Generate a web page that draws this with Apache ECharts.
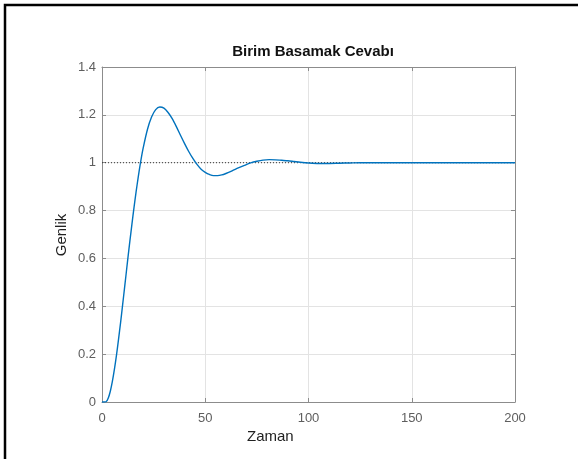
<!DOCTYPE html>
<html lang="tr">
<head>
    <meta charset="UTF-8">
    <title>Birim Basamak Cevabı</title>
    <script src="https://cdn.jsdelivr.net/npm/echarts@6/dist/echarts.min.js"></script>
    <style>
        html, body { margin: 0; padding: 0; background: #fff; }
    </style>
</head>
<body>
    <div id="main" style="width: 578px; height: 459px"></div>
    <script>
        var myEcharts = echarts.init(document.getElementById('main'))

        // zaman (s) ve genlik degerleri
        var zaman = [0, 1, 2, 3, 4, 5, 6, 7, 8, 9, 10, 11, 12, 13, 14, 15, 16, 17, 18, 19, 20,
            22, 24, 26, 28, 30, 32, 34, 36, 38, 40, 42, 44, 46, 48, 50, 52, 54, 56, 58, 60,
            63, 66, 69, 72, 75, 78, 81, 84, 87, 90, 93, 96, 100, 105, 110, 115, 120, 125, 130,
            140, 150, 160, 170, 180, 190, 200]
        var genlik = [0, 0, 0.001, 0.016, 0.044, 0.085, 0.136, 0.195, 0.262, 0.332, 0.407, 0.483, 0.56, 0.636, 0.708, 0.779, 0.846, 0.908, 0.966, 1.018, 1.064,
            1.139, 1.191, 1.222, 1.233, 1.228, 1.21, 1.184, 1.151, 1.115, 1.08, 1.047, 1.018, 0.993, 0.973, 0.96, 0.951, 0.946, 0.946, 0.949, 0.955,
            0.966, 0.978, 0.989, 0.999, 1.006, 1.011, 1.013, 1.012, 1.01, 1.008, 1.005, 1.002, 0.999, 0.997, 0.997, 0.998, 0.999, 1.0, 1.0,
            1.0, 1.0, 1.0, 1.0, 1.0, 1.0, 1.0]

        var xTicks = [0, 50, 100, 150, 200]
        var yTicks = [0, 0.2, 0.4, 0.6, 0.8, 1, 1.2, 1.4]
        var hedef = [[0, 1], [200, 1]] // son deger cizgisi (noktali)

        var cevap = zaman.map(function (t, i) { return [t, genlik[i]] })

        var eksenRenk = '#8c8c8c'
        var gridRenk = '#e3e3e3'
        var etiket = { color: '#5e5e5e', fontSize: 13, fontFamily: 'Liberation Sans, Arial, sans-serif' }

        function xEksen(pos, showLabel) {
            return {
                type: 'value', position: pos, min: xTicks[0], max: xTicks[xTicks.length - 1], interval: 50,
                axisLine: { show: true, onZero: false, lineStyle: { color: eksenRenk, width: 1 } },
                axisTick: { show: true, inside: true, length: 4, lineStyle: { color: eksenRenk } },
                axisLabel: Object.assign({ show: showLabel, margin: 10 }, etiket),
                splitLine: { show: showLabel, lineStyle: { color: gridRenk, width: 1 } }
            }
        }
        function yEksen(pos, showLabel) {
            return {
                type: 'value', position: pos, min: 0, max: 1.4, interval: 0.2,
                axisLine: { show: true, onZero: false, lineStyle: { color: eksenRenk, width: 1 } },
                axisTick: { show: true, inside: true, length: 4, lineStyle: { color: eksenRenk } },
                axisLabel: Object.assign({
                    show: showLabel, margin: 6,
                    formatter: function (v) { return yTicks.indexOf(+v.toFixed(1)) >= 0 ? String(+v.toFixed(1)) : '' }
                }, etiket),
                splitLine: { show: showLabel, lineStyle: { color: gridRenk, width: 1 } }
            }
        }

        var option = {
            backgroundColor: '#fff',
            animation: false,
            title: {
                text: 'Birim Basamak Cevabı',
                left: 308,
                textAlign: 'center',
                top: 39,
                textStyle: { color: '#111', fontSize: 15, fontWeight: 'bold', fontFamily: 'Liberation Sans, Arial, sans-serif' }
            },
            grid: { left: 102, top: 67, width: 413, height: 335, show: false },
            xAxis: [xEksen('bottom', true), xEksen('top', false)],
            yAxis: [yEksen('left', true), yEksen('right', false)],
            graphic: [
                {
                    type: 'polyline',
                    shape: { points: [[5, 459], [5, 5], [578, 5]] },
                    style: { stroke: '#000', lineWidth: 2.5, fill: null }
                },
                {
                    type: 'text', left: 247, top: 429,
                    style: { text: 'Zaman', fontSize: 15, fill: '#222', fontFamily: 'Liberation Sans, Arial, sans-serif' }
                },
                {
                    type: 'text', x: 62, y: 235, rotation: Math.PI / 2,
                    style: { text: 'Genlik', fontSize: 15, fill: '#222', align: 'center', verticalAlign: 'middle', fontFamily: 'Liberation Sans, Arial, sans-serif' }
                }
            ],
            series: [
                {
                    name: 'hedef', type: 'line', data: hedef, symbol: 'none', silent: true,
                    lineStyle: { color: '#333', width: 1, type: [1, 2] }
                },
                {
                    name: 'cevap', type: 'line', data: cevap, symbol: 'none', smooth: 0.3,
                    lineStyle: { color: '#0072BD', width: 1.4 }
                }
            ]
        }

        myEcharts.setOption(option)
    </script>
</body>
</html>
